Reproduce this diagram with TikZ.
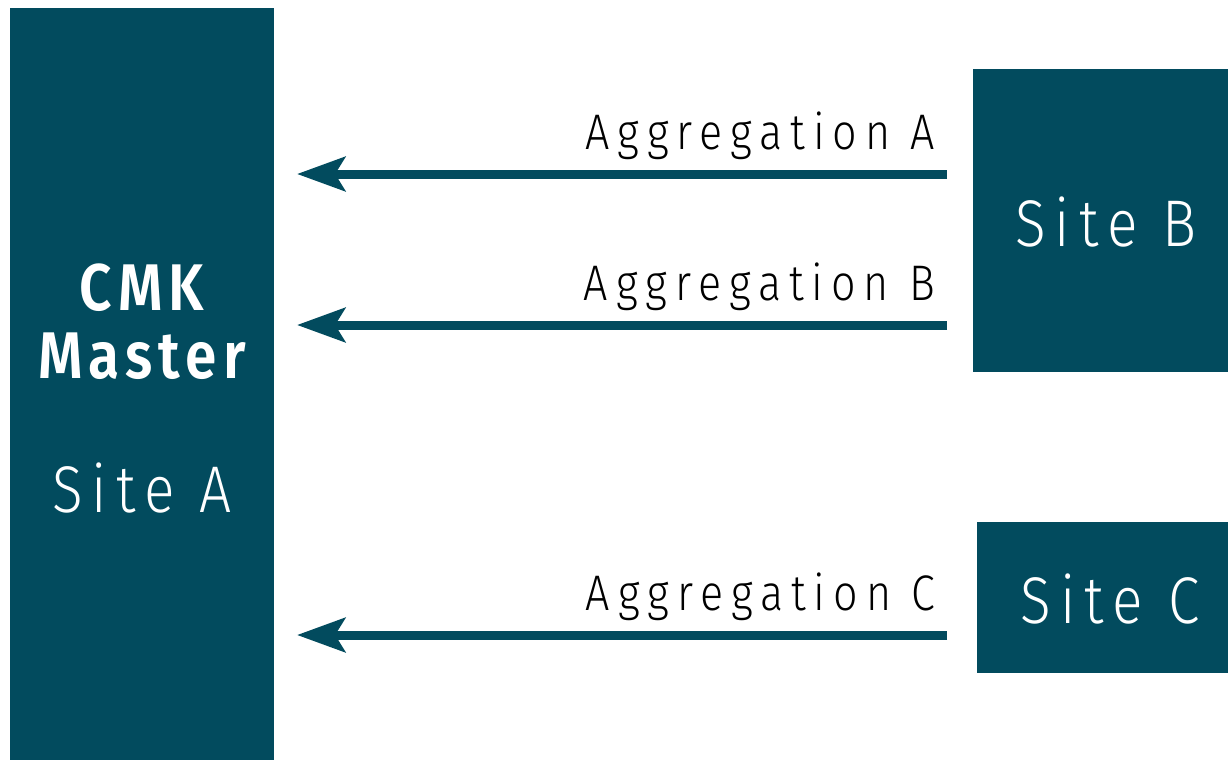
\documentclass[tikz,border=0pt]{standalone}
\usepackage{fontspec}
\setmainfont{Fira Sans}[UprightFont=* Light, BoldFont=* SemiBold, FakeStretch=0.86, LetterSpace=6]
\usetikzlibrary{arrows.meta}
\definecolor{cmkteal}{RGB}{2,75,94}
\tikzset{
  sitebox/.style={fill=cmkteal, draw=none, inner sep=0pt},
  sitelabel/.style={text=white, font=\fontsize{66}{70}\selectfont\addfontfeatures{LetterSpace=14}, inner sep=0pt},
  masterlabel/.style={text=white, font=\fontsize{66}{70}\selectfont\bfseries\addfontfeatures{LetterSpace=9.5}, inner sep=0pt},
  agglabel/.style={text=black, font=\fontsize{50}{56}\selectfont\addfontfeatures{LetterSpace=16}, inner sep=0pt, anchor=base east},
  flow/.style={draw=cmkteal, line width=9pt, -{Stealth[length=48pt, width=34pt, inset=10pt]}}
}
\begin{document}
\begin{tikzpicture}[x=1pt, y=-1pt]
  \useasboundingbox (0,0) rectangle (1228,760);
  % site boxes
  \node[sitebox, minimum width=264pt, minimum height=752pt, anchor=north west] (siteA) at (10,8) {};
  \node[sitebox, minimum width=255pt, minimum height=303pt, anchor=north west] (siteB) at (973,69) {};
  \node[sitebox, minimum width=251pt, minimum height=151pt, anchor=north west] (siteC) at (977,522) {};
  % labels inside the boxes
  \node[masterlabel, anchor=base] (cmk) at (142,310) {CMK};
  \node[masterlabel, anchor=base] (master) at (142,378) {Master};
  \node[sitelabel, anchor=base] (nameA) at (142,512) {Site A};
  \node[sitelabel, anchor=base] (nameB) at (1106,246) {Site B};
  \node[sitelabel, anchor=base] (nameC) at (1110,623) {Site C};
  % aggregation arrows
  \coordinate (srcA) at (947,174);
  \coordinate (dstA) at (297,174);
  \coordinate (srcB) at (947,325);
  \coordinate (dstB) at (297,325);
  \coordinate (srcC) at (947,635);
  \coordinate (dstC) at (297,635);
  \draw[flow] (srcA) -- (dstA);
  \draw[flow] (srcB) -- (dstB);
  \draw[flow] (srcC) -- (dstC);
  \node[agglabel] (aggA) at (935,149) {Aggregation A};
  \node[agglabel] (aggB) at (935,300) {Aggregation B};
  \node[agglabel] (aggC) at (935,610) {Aggregation C};
\end{tikzpicture}
\end{document}
